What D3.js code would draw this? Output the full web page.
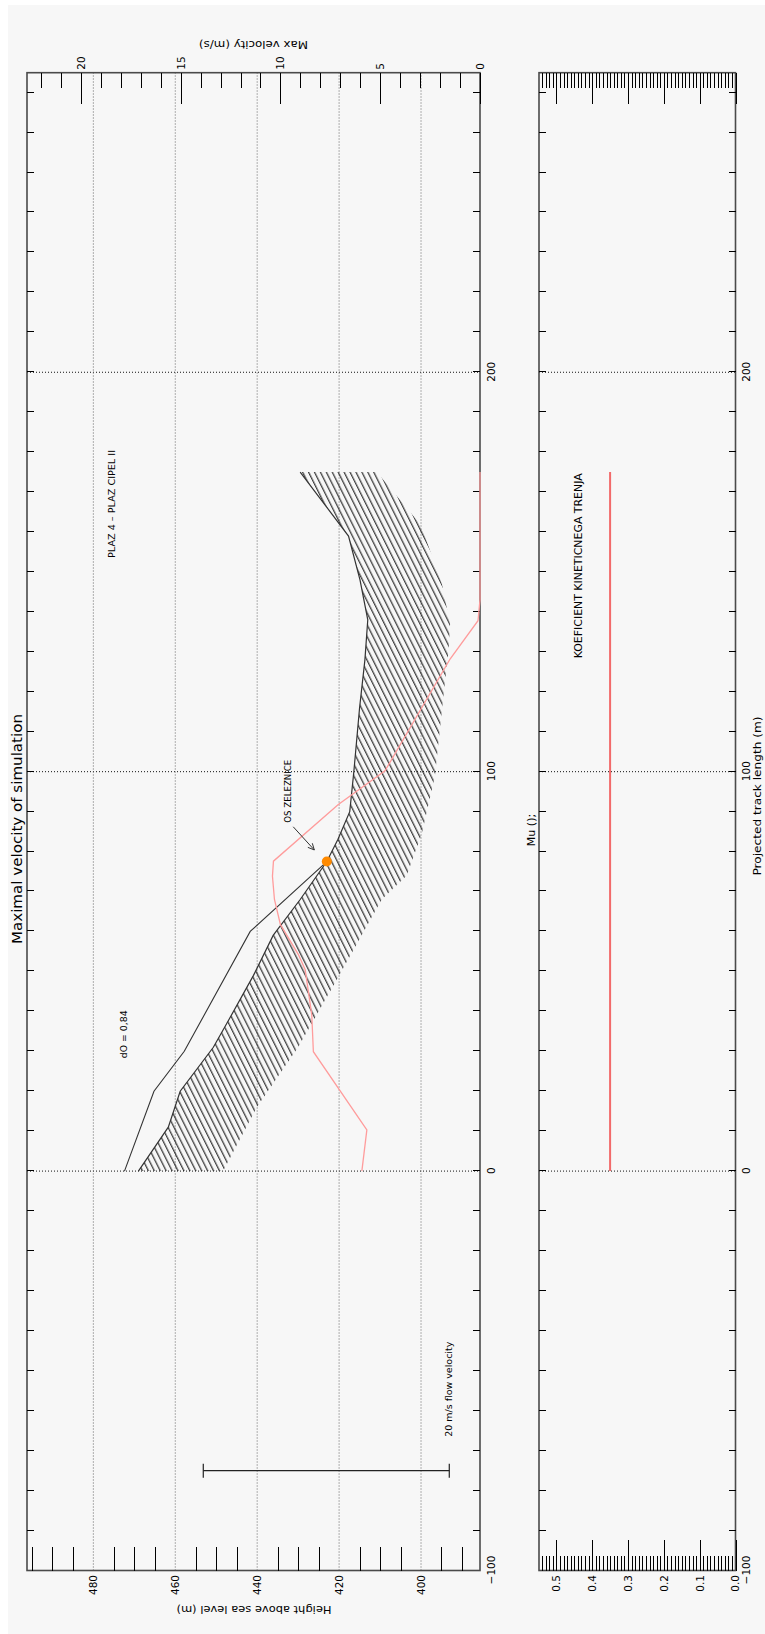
<!DOCTYPE html>
<html>
<head>
<meta charset="utf-8">
<script src="https://cdn.jsdelivr.net/npm/d3@7"></script>
<style>
  html, body { margin: 0; padding: 0; background: #ffffff; }
  svg { display: block; }
</style>
</head>
<body>
<svg id="chart" width="765" height="1634"></svg>
<script>
// ---- axis ticks ----
const trackTicks = [-100, 0, 100, 200];
const gridTrack = [0, 100, 200];
const heightTicks = [400, 420, 440, 460, 480];
const velocityTicks = [0, 5, 10, 15, 20];
const muTicks = [0, 0.1, 0.2, 0.3, 0.4, 0.5];

// ---- terrain profile (track length m, height m a.s.l.) ----
const terrainTrack  = [0, 11, 20, 31, 37, 49, 59, 68, 77.5, 83, 90, 100, 116, 128, 138, 148, 159, 175];
const terrainHeight = [469, 461.7, 458.8, 450.7, 447.4, 440.9, 436.1, 429.5, 423, 420.3, 417.4, 416.4, 415, 413.7, 413, 414.9, 417.7, 429.5];

// lower edge of the ground hatching
const baseTrack  = [0, 16, 31, 48.6, 68, 74, 84.5, 99, 123, 130, 137, 147, 161.7, 175];
const baseHeight = [448.3, 440.1, 430, 420.2, 409.6, 403.5, 399.8, 396.6, 394.1, 393.3, 392.9, 394.9, 400, 410.8];

// flow surface (d0 = 0,84)
const flowTrack  = [0, 20, 30, 60, 77.5];
const flowHeight = [472.4, 465.2, 457.8, 441.7, 423];

// maximal velocity along the track (m/s)
const velTrack = [0, 10.3, 29.9, 39.1, 50.4, 54.2, 61.7, 68, 73.8, 77.6, 91.8, 100.2, 128.2, 137.8, 143, 175];
const velValue = [5.92, 5.67, 8.35, 8.43, 8.76, 9.1, 10.0, 10.3, 10.4, 10.35, 7.1, 4.76, 1.5, 0.1, 0, 0];

// coefficient of kinetic friction
const muTrack = [0, 175];
const muValue = [0.35, 0.35];

// railway axis marker and its pointer
const railTrack = [77.5];
const railHeight = [423];
const arrowTrack = [86.2, 80.4];
const arrowHeight = [431.2, 426.05];

// velocity legend bar
const barTrack = -75;
const barBaseHeight = 393.1;
const barVelocity = 20;

// ---- layout (drawn landscape, turned a quarter turn) ----
const W = 1634, H = 765;
const plotL = 63.5, plotR = 1561.3;
const mainTop = 27, mainBot = 480;
const muTop = 539, muBot = 735.5;
const FONT = "'DejaVu Sans', 'Liberation Sans', Arial, sans-serif";

const x = d3.scaleLinear().domain([-100, 275]).range([plotL, plotR]);
const y = d3.scaleLinear().domain([385.6, 496.2]).range([mainBot, mainTop]);
const v = d3.scaleLinear().domain([0, 22.7]).range([mainBot, mainTop]);
const m = d3.scaleLinear().domain([0, 0.5484]).range([muBot, muTop]);
const barScale = d3.scaleLinear().domain([0, 20]).range([0, 246]);

const svg = d3.select("#chart");
const defs = svg.append("defs");

const pat = defs.append("pattern")
  .attr("id", "ground")
  .attr("patternUnits", "userSpaceOnUse")
  .attr("width", 12).attr("height", 5.3)
  .attr("patternTransform", "rotate(-26.57)");
pat.append("line")
  .attr("x1", -1).attr("x2", 13).attr("y1", 0.7).attr("y2", 0.7)
  .attr("stroke", "#151515").attr("stroke-width", 1.05);

const root = svg.append("g").attr("transform", `translate(0,${W}) rotate(-90)`);

root.append("rect")
  .attr("x", 0).attr("y", 8).attr("width", 1629).attr("height", 757)
  .attr("fill", "#f7f7f7");

// ---- grid lines ----
const grid = root.append("g").attr("fill", "none").attr("stroke-dasharray", "1,2");
grid.selectAll(".gx").data(gridTrack).join("line")
  .attr("x1", d => x(d)).attr("x2", d => x(d))
  .attr("y1", mainTop).attr("y2", mainBot)
  .attr("stroke", "#111").attr("stroke-width", 1);
grid.selectAll(".gh").data(heightTicks).join("line")
  .attr("x1", plotL).attr("x2", plotR)
  .attr("y1", d => y(d)).attr("y2", d => y(d))
  .attr("stroke", "#666").attr("stroke-width", 1);
grid.selectAll(".gm").data(gridTrack).join("line")
  .attr("x1", d => x(d)).attr("x2", d => x(d))
  .attr("y1", muTop).attr("y2", muBot)
  .attr("stroke", "#111").attr("stroke-width", 1);

// ---- ground hatching ----
const terrainPts = d3.zip(terrainTrack, terrainHeight);
const basePts = d3.zip(baseTrack, baseHeight);
const bandPts = terrainPts.concat(basePts.slice().reverse());
const pxLine = d3.line().x(d => x(d[0])).y(d => y(d[1]));
root.append("path")
  .attr("d", pxLine(bandPts) + "Z")
  .attr("fill", "url(#ground)")
  .attr("stroke", "none");

// flow surface and terrain
root.append("path")
  .attr("d", pxLine(d3.zip(flowTrack, flowHeight)))
  .attr("fill", "none").attr("stroke", "#333").attr("stroke-width", 1.1);
root.append("path")
  .attr("d", pxLine(terrainPts))
  .attr("fill", "none").attr("stroke", "#333").attr("stroke-width", 1.2);

// ---- frames ----
root.append("rect")
  .attr("x", plotL).attr("y", mainTop)
  .attr("width", plotR - plotL).attr("height", mainBot - mainTop)
  .attr("fill", "none").attr("stroke", "#4a4a4a").attr("stroke-width", 1.6);
root.append("rect")
  .attr("x", plotL).attr("y", muTop)
  .attr("width", plotR - plotL).attr("height", muBot - muTop)
  .attr("fill", "none").attr("stroke", "#4a4a4a").attr("stroke-width", 1.6);

// ---- axes ----
function tidy(g, size) {
  g.select(".domain").remove();
  g.attr("font-family", FONT).attr("font-size", size || 10.5);
  g.selectAll(".tick line").attr("stroke", "#000").attr("stroke-width", 1)
    .attr("shape-rendering", "crispEdges");
  g.selectAll(".tick text").attr("fill", "#000");
}

const minorTrack = d3.range(-90, 275, 10);

// main plot: height axis
root.append("g").attr("transform", `translate(${plotL},0)`)
  .call(d3.axisLeft(y).tickValues(heightTicks).tickSize(0).tickPadding(4.5))
  .call(tidy);
root.append("g").attr("transform", `translate(${plotL},0)`)
  .call(d3.axisLeft(y).tickValues(d3.range(390, 496, 5).filter(d => d % 20 !== 0))
    .tickSize(-24).tickFormat(""))
  .call(tidy);

// main plot: velocity axis
root.append("g").attr("transform", `translate(${plotR},0)`)
  .call(d3.axisRight(v).tickValues(velocityTicks).tickSize(-31).tickPadding(3))
  .call(tidy);
root.append("g").attr("transform", `translate(${plotR},0)`)
  .call(d3.axisRight(v).tickValues(d3.range(1, 23).filter(d => d % 5 !== 0))
    .tickSize(-15).tickFormat(""))
  .call(tidy);

// main plot: track ticks
root.append("g").attr("transform", `translate(0,${mainTop})`)
  .call(d3.axisTop(x).tickValues(minorTrack).tickSize(-7).tickFormat(""))
  .call(tidy);
root.append("g").attr("transform", `translate(0,${mainBot})`)
  .call(d3.axisBottom(x).tickValues(minorTrack).tickSize(-7).tickFormat(""))
  .call(tidy);
root.append("g").attr("transform", `translate(0,${mainBot})`)
  .call(d3.axisBottom(x).tickValues(trackTicks).tickSize(0).tickPadding(7.5))
  .call(tidy);

// friction plot axes
const muMinor = d3.range(1, 55).filter(d => d % 10 !== 0).map(d => d / 100);
root.append("g").attr("transform", `translate(${plotL},0)`)
  .call(d3.axisLeft(m).tickValues(muTicks).tickSize(-31).tickPadding(4.5).tickFormat(d3.format(".1f")))
  .call(tidy);
root.append("g").attr("transform", `translate(${plotL},0)`)
  .call(d3.axisLeft(m).tickValues(muMinor).tickSize(-15).tickFormat(""))
  .call(tidy);
root.append("g").attr("transform", `translate(${plotR},0)`)
  .call(d3.axisRight(m).tickValues(muTicks).tickSize(-31).tickFormat(""))
  .call(tidy);
root.append("g").attr("transform", `translate(${plotR},0)`)
  .call(d3.axisRight(m).tickValues(muMinor).tickSize(-15).tickFormat(""))
  .call(tidy);
root.append("g").attr("transform", `translate(0,${muTop})`)
  .call(d3.axisTop(x).tickValues(minorTrack).tickSize(-7).tickFormat(""))
  .call(tidy);
root.append("g").attr("transform", `translate(0,${muBot})`)
  .call(d3.axisBottom(x).tickValues(minorTrack).tickSize(-7).tickFormat(""))
  .call(tidy);
root.append("g").attr("transform", `translate(0,${muBot})`)
  .call(d3.axisBottom(x).tickValues(trackTicks).tickSize(0).tickPadding(7.5))
  .call(tidy);

// ---- red series ----
root.append("path")
  .attr("d", d3.line().x(d => x(d[0])).y(d => v(d[1]))(d3.zip(velTrack, velValue)))
  .attr("fill", "none").attr("stroke", "#ff9c9c").attr("stroke-width", 1.3);
root.append("path")
  .attr("d", d3.line().x(d => x(d[0])).y(d => m(d[1]))(d3.zip(muTrack, muValue)))
  .attr("fill", "none").attr("stroke", "#f26a6a").attr("stroke-width", 2);

// railway axis point
root.selectAll(".rail").data(d3.zip(railTrack, railHeight)).join("circle")
  .attr("cx", d => x(d[0])).attr("cy", d => y(d[1])).attr("r", 5)
  .attr("fill", "#ff8a00");

// pointer arrow
const a0 = [x(arrowTrack[0]), y(arrowHeight[0])];
const a1 = [x(arrowTrack[1]), y(arrowHeight[1])];
const ang = Math.atan2(a1[1] - a0[1], a1[0] - a0[0]);
const barb = 7, spread = Math.PI / 7;
const arrow = root.append("g").attr("stroke", "#333").attr("stroke-width", 1).attr("fill", "none");
arrow.append("line").attr("x1", a0[0]).attr("y1", a0[1]).attr("x2", a1[0]).attr("y2", a1[1]);
[ang + spread, ang - spread].forEach(t => {
  arrow.append("line")
    .attr("x1", a1[0]).attr("y1", a1[1])
    .attr("x2", a1[0] - barb * Math.cos(t)).attr("y2", a1[1] - barb * Math.sin(t));
});

// velocity legend bar
const bx = x(barTrack);
const by0 = y(barBaseHeight);
const by1 = by0 - barScale(barVelocity);
const bar = root.append("g").attr("stroke", "#222").attr("stroke-width", 1.2);
bar.append("line").attr("x1", bx).attr("x2", bx).attr("y1", by0).attr("y2", by1);
bar.append("line").attr("x1", bx - 7).attr("x2", bx + 7).attr("y1", by0).attr("y2", by0);
bar.append("line").attr("x1", bx - 7).attr("x2", bx + 7).attr("y1", by1).attr("y2", by1);

// ---- text ----
function label(txt, px, py, opts) {
  const o = Object.assign({ size: 10, anchor: "start", rotate: 0, len: null }, opts);
  const t = root.append("text")
    .attr("transform", `translate(${px},${py}) rotate(${o.rotate})`)
    .attr("font-family", FONT).attr("font-size", o.size)
    .attr("text-anchor", o.anchor).attr("fill", "#000")
    .text(txt);
  if (o.len) t.attr("textLength", o.len).attr("lengthAdjust", "spacingAndGlyphs");
  return t;
}

label("Maximal velocity of simulation", 805, 22, { size: 13.5, anchor: "middle", len: 230 });
label("Max velocity (m/s)", 1593, 253.5, { size: 10.5, anchor: "middle", rotate: -90, len: 109 });
label("Height above sea level (m)", 28, 254, { size: 10.5, anchor: "middle", rotate: -90, len: 155 });
label("Projected track length (m)", 838, 761, { size: 11, anchor: "middle", len: 159 });
label("Mu ();", 804, 535, { size: 11, anchor: "middle" });
label("PLAZ 4 \u2013 PLAZ CIPEL II", 1076, 115, { size: 9, len: 108 });
label("dO = 0,84", 575.7, 126.5, { size: 9.5, len: 48 });
label("OS ZELEZNICE", 811.3, 290.7, { size: 9, len: 63 });
label("KOEFICIENT KINETICNEGA TRENJA", 975.7, 581.5, { size: 10, len: 185 });
label("20 m/s flow velocity", 197.3, 451.5, { size: 9.5, len: 95 });
</script>
</body>
</html>
